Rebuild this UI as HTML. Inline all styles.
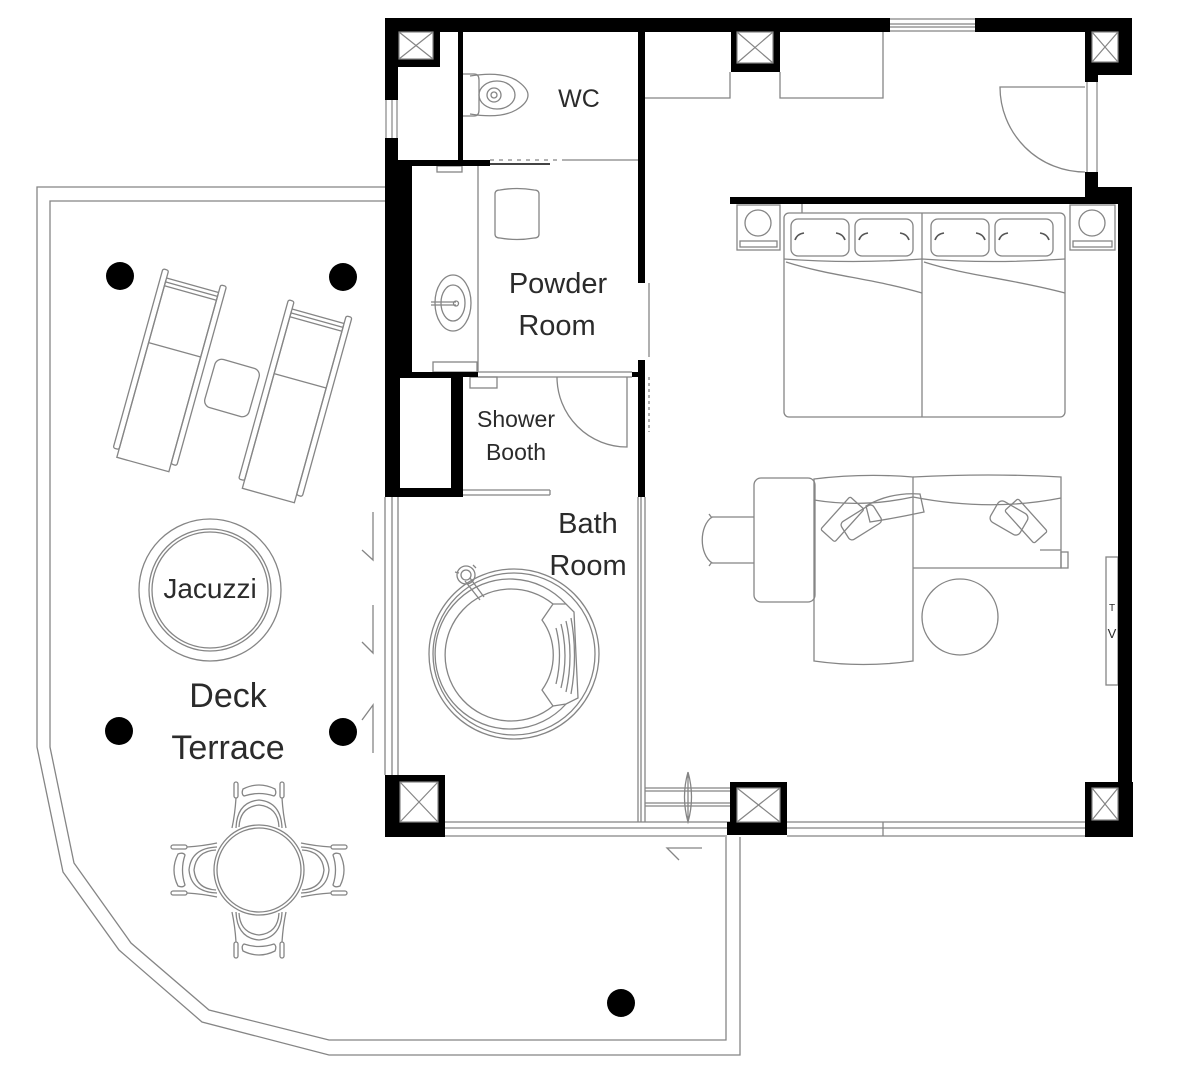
<!DOCTYPE html>
<html><head><meta charset="utf-8">
<style>
html,body{margin:0;padding:0;background:#fff;}
svg{display:block;}
text{font-family:"Liberation Sans",sans-serif;fill:#2b2b2b;}
</style></head><body>
<svg width="1200" height="1070" viewBox="0 0 1200 1070" xmlns="http://www.w3.org/2000/svg">
<rect width="1200" height="1070" fill="#fff"/>

<!-- ============ THIN LINES ============ -->
<g fill="none" stroke="#858585" stroke-width="1.3">
  <!-- terrace outline -->
  <polyline points="385,187 37,187 37,747 63,872 119,950 202,1022 329,1055 740,1055 740,837"/>
  <polyline points="385,201 50,201 50,747 74,863 131,943 209,1010 329,1040 726,1040 726,837"/>
  <!-- sliding markers -->
  <path d="M373 512 V560 L362 550 M373 605 V653 L362 642 M373 753 V705 L362 720"/>
  <path d="M702 848 H667 L679 860"/>
  <!-- glass wall left of bath -->
  <path d="M385 497 V775 M392 497 V775 M398 497 V775"/>
  <!-- bath / living partition -->
  <path d="M638 497 V822 M641 497 V822 M645 497 V822"/>
  <!-- bottom walls -->
  <path d="M445 822 H730 M445 828 H730 M445 836 H727 M787 822 H1085 M787 828 H1085 M787 836 H1085 M883 822 V836"/>
  <!-- steps -->
  <path d="M645 788 H730 M645 791 H730 M645 803 H730 M645 806 H730"/>
  <path d="M688 772 Q681 797 688 822 Q695 797 688 772 M688 772 V822"/>
  <!-- windows -->
  <path d="M890 19 H975 M890 24 H975 M890 27 H975 M890 31 H975"/>
  <!-- bedroom top cabinets -->
  <path d="M645 98 H730 V72 M780 72 V98 H883 V32"/>
  <!-- WC / powder -->
  <path d="M563 160 H638"/>
  <path d="M490 160 H563" stroke-dasharray="4 5"/>
  <path d="M478 166 V372"/>
  <rect x="437" y="166" width="25" height="6"/>
  <rect x="433" y="362" width="44" height="10"/>
  <path d="M649 283 V357"/>
  <path d="M649 377 V432" stroke-dasharray="3 3"/>
  <!-- shower -->
  <path d="M478 372 H632 M478 377 H632"/>
  <rect x="470" y="377" width="27" height="11"/>
  <path d="M627 377 V447 A70 70 0 0 1 557 377"/>
  <path d="M463 490 H550 M463 495 H550 M550 490 V495"/>
  <!-- bedroom door -->
  <path d="M1085 87 H1000 A85 85 0 0 0 1085 172"/>

  <!-- toilet -->
  <path d="M463 74 H474 Q479 74 479 80 V110 Q479 116 474 116 H463"/>
  <path d="M470 76 Q500 71 516 80 Q528 88 528 95 Q528 103 516 110 Q500 119 470 114"/>
  <ellipse cx="497" cy="95" rx="18" ry="14"/>
  <circle cx="494" cy="95" r="7"/>
  <circle cx="494" cy="95" r="3"/>

  <!-- powder stool -->
  <path d="M495 194 Q495 190 500 190 Q517 187 534 190 Q539 190 539 194 V234 Q539 238 534 238 Q517 241 500 238 Q495 238 495 234 Z"/>
  <!-- sink -->
  <ellipse cx="453" cy="303" rx="18" ry="28"/>
  <ellipse cx="453" cy="303" rx="12" ry="18"/>
  <path d="M431 302 H456 M431 305 H456"/>
  <circle cx="456" cy="303.5" r="2.5"/>

  <!-- bathtub -->
  <circle cx="514" cy="654" r="85"/>
  <circle cx="514" cy="654" r="81"/>
  <path d="M566 604 A75 75 0 1 0 566 704"/>
  <path d="M553 604 A66 66 0 1 0 553 706 L542 690 A60 60 0 0 0 542 620 Z"/>
  <path d="M553 604 L566 604 L574 612 L578 698 L566 704 L553 706"/>
  <path d="M556 628 Q563 655 556 684 M561 624 Q569 655 561 688 M566 621 Q574 655 566 692 M571 618 Q578 655 571 694"/>
  <circle cx="466" cy="575" r="9"/>
  <circle cx="466" cy="575" r="5"/>
  <path d="M465 581 L480 600 M470 578 L484 597"/>
  <path d="M455 572 L459 573 M473 565 L476 568"/>

  <!-- nightstands -->
  <rect x="737" y="205" width="43" height="45"/>
  <circle cx="758" cy="223" r="13"/>
  <rect x="740" y="241" width="37" height="6"/>
  <rect x="1070" y="205" width="45" height="45"/>
  <circle cx="1092" cy="223" r="13"/>
  <rect x="1073" y="241" width="39" height="6"/>

  <!-- bed -->
  <rect x="784" y="213" width="281" height="204" rx="5"/>
  <path d="M922 213 V417"/>
  <path d="M802 204 V213"/>
  <rect x="791" y="219" width="58" height="37" rx="7"/>
  <rect x="855" y="219" width="58" height="37" rx="7"/>
  <rect x="931" y="219" width="58" height="37" rx="7"/>
  <rect x="995" y="219" width="58" height="37" rx="7"/>
  <path d="M784 259 Q853 264 922 259 Q993 264 1065 259"/>
  <path d="M786 262 C830 276 870 278 922 293"/>
  <path d="M924 262 C968 276 1008 278 1065 293"/>
  <g stroke="#555" stroke-width="1.6">
    <path d="M795 240 Q797 234 804 233 M845 240 Q843 234 836 233 M859 240 Q861 234 868 233 M909 240 Q907 234 900 233"/>
    <path d="M935 240 Q937 234 944 233 M985 240 Q983 234 976 233 M999 240 Q1001 234 1008 233 M1049 240 Q1047 234 1040 233"/>
  </g>

  <!-- desk chair and desk -->
  <path d="M754 517 H712 M754 563 H712 M712 517 C699 526 699 554 712 563"/>
  <path d="M709 514 L712 518 M709 566 L712 562"/>
  <rect x="754" y="478" width="61" height="124" rx="7"/>
  <!-- sofa -->
  <path d="M814 479 Q863 473 913 477 V661 Q863 668 814 661 Z"/>
  <path d="M913 477 Q990 473 1061 477 V568 H913"/>
  <rect x="1061" y="552" width="7" height="16"/>
  <path d="M1040 550 H1061"/>
  <path d="M814 500 Q863 508 913 497 Q990 512 1061 498"/>
  <g transform="translate(842,519) rotate(-48)"><rect x="-22" y="-9" width="44" height="19" rx="2"/></g>
  <g transform="translate(861,522) rotate(-32)"><rect x="-19" y="-10" width="38" height="21" rx="4"/></g>
  <path d="M866 506 Q890 492 920 494 L924 512 Q896 518 870 522 Z"/>
  <g transform="translate(1009,518) rotate(30)"><rect x="-17" y="-12" width="34" height="24" rx="5"/></g>
  <g transform="translate(1026,521) rotate(48)"><rect x="-22" y="-9" width="44" height="18" rx="2"/></g>
  <!-- coffee table -->
  <circle cx="960" cy="617" r="38"/>
  <!-- TV -->
  <rect x="1106" y="557" width="12" height="128"/>

  <!-- lounge chairs -->
  <g transform="translate(168.5,372) rotate(15.5)">
    <rect x="-33" y="-98" width="6" height="186" rx="2"/>
    <rect x="27" y="-98" width="6" height="186" rx="2"/>
    <path d="M-27 -88 V96 H27 V-88 M-27 -90 H27 M-27 -86 H27 M-27 -82 H27 M-27 -23 H27"/>
  </g>
  <g transform="translate(294,403) rotate(15.5)">
    <rect x="-33" y="-98" width="6" height="186" rx="2"/>
    <rect x="27" y="-98" width="6" height="186" rx="2"/>
    <path d="M-27 -88 V96 H27 V-88 M-27 -90 H27 M-27 -86 H27 M-27 -82 H27 M-27 -23 H27"/>
  </g>
  <g transform="translate(232,388) rotate(16)"><rect x="-23" y="-25" width="46" height="50" rx="7"/></g>

  <!-- jacuzzi -->
  <circle cx="210" cy="590" r="71"/>
  <circle cx="210" cy="590" r="61"/>
  <circle cx="210" cy="590" r="58"/>

  <!-- dining -->
  <g transform="translate(259,870)">
    <circle cx="0" cy="0" r="45"/>
    <circle cx="0" cy="0" r="42"/>
    <g id="ch">
      <rect x="-25" y="-88" width="4" height="16" rx="2"/>
      <rect x="21" y="-88" width="4" height="16" rx="2"/>
      <path d="M-23 -72 Q-24 -56 -27 -42 M23 -72 Q24 -56 27 -42"/>
      <path d="M-16 -81 Q0 -89 16 -81 Q18 -76 15 -74 Q0 -79 -15 -74 Q-18 -76 -16 -81 Z"/>
      <path d="M-23 -42 Q-22 -68 0 -70 Q22 -68 23 -42"/>
      <path d="M-20 -43 Q-19 -63 0 -65 Q19 -63 20 -43"/>
    </g>
    <use href="#ch" transform="rotate(90)"/>
    <use href="#ch" transform="rotate(180)"/>
    <use href="#ch" transform="rotate(270)"/>
  </g>
</g>

<!-- ============ WALLS ============ -->
<g fill="#000">
  <rect x="385" y="18" width="505" height="14"/>
  <rect x="975" y="18" width="157" height="14"/>
  <rect x="385" y="18" width="55" height="49"/>
  <rect x="385" y="67" width="13" height="33"/>
  <rect x="385" y="138" width="13" height="240"/>
  <rect x="398" y="160" width="14" height="217"/>
  <rect x="398" y="160" width="92" height="6"/>
  <rect x="458" y="32" width="5" height="130"/>
  <rect x="385" y="372" width="78" height="125"/>
  <rect x="463" y="372" width="15" height="5"/>
  <rect x="638" y="18" width="7" height="265"/>
  <rect x="638" y="360" width="7" height="137"/>
  <rect x="632" y="372" width="6" height="5"/>
  <rect x="731" y="18" width="49" height="54"/>
  <rect x="1085" y="18" width="47" height="57"/>
  <rect x="1085" y="75" width="13" height="7"/>
  <rect x="1085" y="172" width="13" height="32"/>
  <rect x="1085" y="187" width="47" height="17"/>
  <rect x="730" y="197" width="368" height="7"/>
  <rect x="1118" y="187" width="14" height="650"/>
  <rect x="385" y="775" width="60" height="62"/>
  <rect x="730" y="782" width="57" height="53"/>
  <rect x="727" y="822" width="10" height="13"/>
  <rect x="1085" y="782" width="48" height="55"/>
  <circle cx="120" cy="276" r="14"/>
  <circle cx="343" cy="277" r="14"/>
  <circle cx="119" cy="731" r="14"/>
  <circle cx="343" cy="732" r="14"/>
  <circle cx="621" cy="1003" r="14"/>
</g>

<g fill="#fff">
  <rect x="386" y="100" width="12" height="38"/>
  <rect x="1086" y="82" width="11" height="90"/>
  <rect x="400" y="378" width="51" height="110"/>
</g>
<g fill="none" stroke="#858585" stroke-width="1.2">
  <path d="M386 100 V138 M392 100 V138 M397 100 V138"/>
  <path d="M1087 82 V172 M1097 82 V172"/>
</g>

<!-- cross boxes -->
<g fill="#fff" stroke="#858585" stroke-width="1.2">
  <rect x="399" y="32" width="34" height="27"/>
  <path d="M399 32 L433 59 M433 32 L399 59"/>
  <rect x="737" y="32" width="36" height="31"/>
  <path d="M737 32 L773 63 M773 32 L737 63"/>
  <rect x="1092" y="32" width="26" height="30"/>
  <path d="M1092 32 L1118 62 M1118 32 L1092 62"/>
  <rect x="400" y="782" width="38" height="40"/>
  <path d="M400 782 L438 822 M438 782 L400 822"/>
  <rect x="737" y="788" width="43" height="34"/>
  <path d="M737 788 L780 822 M780 788 L737 822"/>
  <rect x="1092" y="788" width="26" height="32"/>
  <path d="M1092 788 L1118 820 M1118 788 L1092 820"/>
</g>

<path d="M490 164 H550" stroke="#444" stroke-width="2" fill="none"/>

<!-- ============ TEXT ============ -->
<g text-anchor="middle">
  <text x="579" y="107" font-size="25">WC</text>
  <text x="558" y="293" font-size="29">Powder</text>
  <text x="557" y="335" font-size="29">Room</text>
  <text x="516" y="427" font-size="23">Shower</text>
  <text x="516" y="460" font-size="23">Booth</text>
  <text x="588" y="533" font-size="29">Bath</text>
  <text x="588" y="575" font-size="29">Room</text>
  <text x="210" y="598" font-size="28">Jacuzzi</text>
  <text x="228" y="707" font-size="34">Deck</text>
  <text x="228" y="759" font-size="34">Terrace</text>
  <text x="1112" y="611" font-size="10">T</text>
  <text x="1112" y="638" font-size="13">V</text>
</g>
</svg>
</body></html>
